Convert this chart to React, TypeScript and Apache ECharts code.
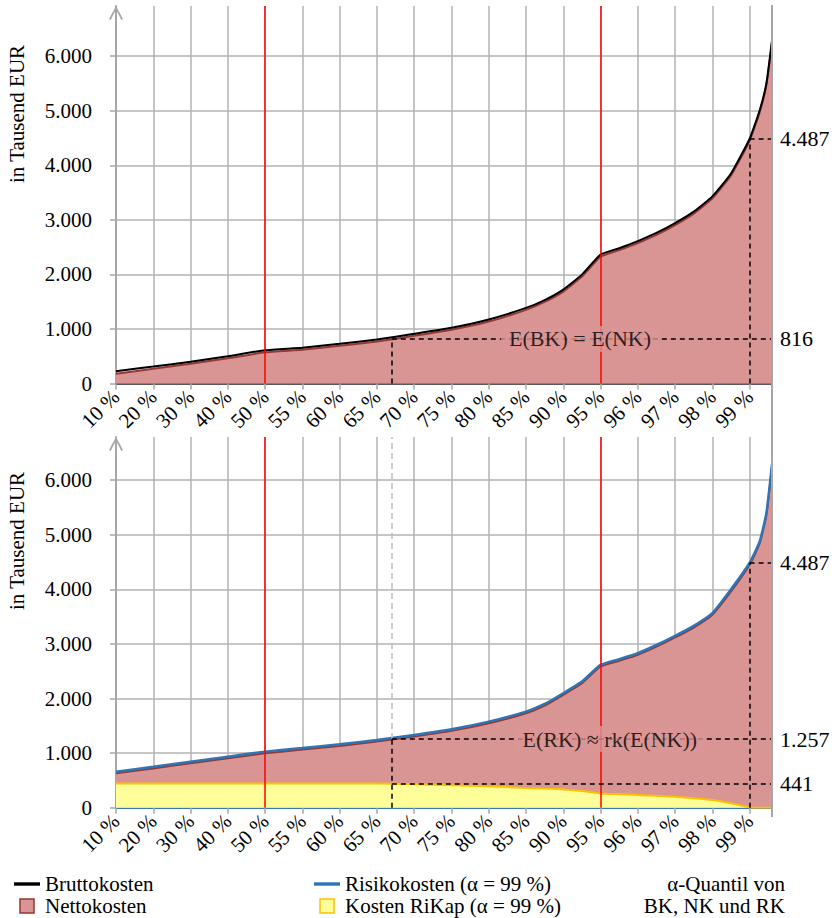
import React, { useEffect, useRef } from 'react';
import * as echarts from 'echarts';

// tick labels of the quantile axis (positions 0..17)
const tickLabels = ['10 %', '20 %', '30 %', '40 %', '50 %', '55 %', '60 %', '65 %', '70 %', '75 %', '80 %', '85 %', '90 %', '95 %', '96 %', '97 %', '98 %', '99 %'];
// x positions of the data points in tick units (0 = 10 %, 17 = 99 %)
const xPos = [0, 1, 2, 3, 4, 5, 6, 7, 8, 9, 10, 11, 11.5, 12, 12.5, 13, 13.5, 14, 14.5, 15, 15.5, 16, 16.5, 17, 17.27, 17.45, 17.6];
// top panel (in Tausend EUR)
const bruttokosten = [225, 310, 400, 500, 610, 655, 727, 806, 910, 1020, 1172, 1386, 1530, 1722, 1996, 2363, 2480, 2610, 2760, 2940, 3150, 3430, 3850, 4487, 5010, 5505, 6290];
const nettokostenTop = [180, 270, 362, 462, 572, 620, 692, 770, 875, 985, 1135, 1350, 1495, 1685, 1960, 2325, 2445, 2575, 2725, 2905, 3115, 3395, 3815, 4450, 4975, 5470, 6250];
// bottom panel
const risikokosten = [660, 750, 843, 935, 1027, 1094, 1162, 1241, 1333, 1437, 1577, 1760, 1900, 2097, 2310, 2616, 2720, 2830, 2980, 3148, 3330, 3564, 4000, 4487, 4876, 5397, 6290];
const nettokostenBottom = [630, 720, 813, 905, 997, 1064, 1132, 1211, 1303, 1407, 1547, 1730, 1870, 2067, 2280, 2586, 2690, 2800, 2950, 3118, 3300, 3534, 3960, 4450, 4840, 5360, 6250];
const kostenRiKap = [445, 445, 445, 445, 445, 445, 445, 443, 430, 412, 392, 362, 350, 335, 305, 262, 248, 233, 218, 200, 175, 140, 80, 5, 0, 0, 0];

// reference marks
const xMax = 17.6;
const redLinePos = [4, 13];
const ePos = 7.4; // where E(NK) meets the curve
const q99Pos = 17;
const eNK = 816;
const eRK = 1257;
const eRiKap = 441;
const q99 = 4487;
const topMax = 6920;
const bottomMax = 6790;

const FONT = 'Liberation Serif';
const PINK = '#D99594';
const DARKRED = '#953735';
const YELLOW = '#FFFF99';
const ORANGE = '#FFC000';
const BLUE = '#2F75B5';
const GRID = '#B3B3B3';
const AXIS = '#A6A6A6';
const ARROW = 'path://M0,13 L7,0 L14,13 L12.4,14 L7,3.6 L1.6,14 Z';
const SMOOTH = 0.15;

const zip = (ys: number[]) => xPos.map((x, i) => [x, ys[i]]);
const fmtThousand = (v: number) => String(v).replace(/\B(?=(\d{3})+(?!\d))/g, '.');

function makeXAxis(gridIndex: number, lineColor: string) {
  return {
    type: 'value',
    gridIndex,
    min: 0,
    max: xMax,
    interval: 1,
    axisLine: { show: true, onZero: false, lineStyle: { color: lineColor, width: 2 } },
    axisTick: { show: true, length: 6, lineStyle: { color: AXIS, width: 1.5 } },
    axisLabel: {
      rotate: 45,
      margin: 10,
      fontFamily: FONT,
      fontSize: 21,
      color: '#000',
      formatter: (v: number) => (Number.isInteger(v) && tickLabels[v] ? tickLabels[v] : ''),
    },
    splitLine: { show: true, lineStyle: { color: GRID, width: 1.5 } },
  };
}

function makeYAxis(gridIndex: number, max: number) {
  return {
    type: 'value',
    gridIndex,
    min: 0,
    max,
    interval: 1000,
    axisLine: {
      show: true,
      lineStyle: { color: AXIS, width: 2 },
      symbol: ['none', ARROW],
      symbolSize: [14, 14],
      symbolOffset: [0, -7],
    },
    axisTick: { show: true, length: 6, lineStyle: { color: AXIS, width: 1.5 } },
    axisLabel: {
      margin: 24,
      fontFamily: FONT,
      fontSize: 21,
      color: '#000',
      showMaxLabel: false,
      formatter: (v: number) => (v % 1000 === 0 && v <= 6000 ? fmtThousand(v) : ''),
    },
    splitLine: { show: true, showMaxLine: false, lineStyle: { color: GRID, width: 1.5 } },
  };
}

const endLabel = (text: string) => ({
  show: true,
  position: 'end',
  distance: 8,
  formatter: text,
  fontFamily: FONT,
  fontSize: 22,
  color: '#000',
});

const redLines = redLinePos.map((p) => ({
  xAxis: p,
  lineStyle: { color: '#FF0000', type: 'solid', width: 1.5 },
}));

const legendBase = {
  orient: 'vertical',
  top: 873,
  padding: 0,
  itemWidth: 26,
  itemHeight: 14,
  itemGap: 0,
  itemTextGap: 2,
  selectedMode: false,
  symbolKeepAspect: true,
  textStyle: { fontFamily: FONT, fontSize: 21, color: '#000', lineHeight: 22 },
};

const areaLine = (name: string, data: number[], grid: number, z: number, line: string, fill: string | null, width = 2) => ({
  name, type: 'line', xAxisIndex: grid, yAxisIndex: grid,
  data: zip(data), symbol: 'none', z, smooth: SMOOTH,
  lineStyle: { color: line, width }, itemStyle: { color: fill || line },
  ...(fill ? { areaStyle: { color: fill, opacity: 1 } } : {}),
});

export default function App() {
  const ref = useRef<HTMLDivElement>(null);

  useEffect(() => {
    if (!ref.current) return;
    const chart = echarts.init(ref.current, null, { renderer: 'svg' });

    const option: any = {
      animation: false,
      backgroundColor: '#fff',
      textStyle: { fontFamily: FONT },
      grid: [
        { left: 116, top: 6, width: 656, height: 377.5 },
        { left: 116, top: 437, width: 656, height: 370.7 },
      ],
      xAxis: [makeXAxis(0, '#595959'), makeXAxis(1, '#3A78B8')],
      yAxis: [makeYAxis(0, topMax), makeYAxis(1, bottomMax)],
      legend: [
        {
          ...legendBase,
          left: 14,
          data: [
            { name: 'Bruttokosten', icon: 'path://M0,0H26V3.4H0Z', itemStyle: { color: '#000', borderWidth: 0 } },
            { name: 'Nettokosten', icon: 'path://M0,0H10V10H0Z', itemStyle: { color: PINK, borderColor: DARKRED, borderWidth: 1.5 } },
          ],
        },
        {
          ...legendBase,
          left: 314,
          data: [
            { name: 'Risikokosten (α = 99 %)', icon: 'path://M0,0H26V3.4H0Z', itemStyle: { color: BLUE, borderWidth: 0 } },
            { name: 'Kosten RiKap (α = 99 %)', icon: 'path://M0,0H10V10H0Z', itemStyle: { color: YELLOW, borderColor: ORANGE, borderWidth: 1.5 } },
          ],
        },
      ],
      graphic: [
        {
          type: 'text', x: 17, y: 114, rotation: Math.PI / 2,
          style: { text: 'in Tausend EUR', fontFamily: FONT, fontSize: 21, fill: '#000', align: 'center', verticalAlign: 'middle' },
        },
        {
          type: 'text', x: 17, y: 541, rotation: Math.PI / 2,
          style: { text: 'in Tausend EUR', fontFamily: FONT, fontSize: 21, fill: '#000', align: 'center', verticalAlign: 'middle' },
        },
        {
          type: 'text', x: 785, y: 884,
          style: { text: 'α-Quantil von', fontFamily: FONT, fontSize: 21, fill: '#000', align: 'right', verticalAlign: 'middle' },
        },
        {
          type: 'text', x: 785, y: 906,
          style: { text: 'BK, NK und RK', fontFamily: FONT, fontSize: 21, fill: '#000', align: 'right', verticalAlign: 'middle' },
        },
        {
          type: 'line', z: 100,
          shape: { x1: 772, y1: 5, x2: 772, y2: 817 },
          style: { stroke: AXIS, lineWidth: 2 },
        },
      ],
      series: [
        // ---------- top panel ----------
        areaLine('Nettokosten', nettokostenTop, 0, 2, DARKRED, PINK),
        {
          ...areaLine('Bruttokosten', bruttokosten, 0, 3, '#000', null),
          markLine: {
            silent: true, symbol: ['none', 'none'], animation: false,
            label: { show: false },
            lineStyle: { color: '#000', type: [5, 4], width: 1.5 },
            data: [
              ...redLines,
              [{ coord: [ePos, 0] }, { coord: [ePos, eNK] }],
              [{ coord: [ePos, eNK], label: endLabel(fmtThousand(eNK)) }, { coord: [xMax, eNK] }],
              [{ coord: [q99Pos, 0] }, { coord: [q99Pos, q99] }],
              [{ coord: [q99Pos, q99], label: endLabel(fmtThousand(q99)) }, { coord: [xMax, q99] }],
            ],
          },
        },
        {
          type: 'scatter', xAxisIndex: 0, yAxisIndex: 0, silent: true, z: 10,
          data: [[12.45, eNK]], symbolSize: 1, itemStyle: { color: 'rgba(0,0,0,0)' },
          label: {
            show: true, position: 'inside', formatter: 'E(BK) = E(NK)',
            fontFamily: FONT, fontSize: 22, color: '#000', backgroundColor: PINK, padding: [2, 8],
          },
        },
        // ---------- bottom panel ----------
        areaLine('Nettokosten', nettokostenBottom, 1, 2, DARKRED, PINK),
        areaLine('Kosten RiKap (α = 99 %)', kostenRiKap, 1, 3, ORANGE, YELLOW),
        {
          ...areaLine('Risikokosten (α = 99 %)', risikokosten, 1, 4, BLUE, null, 2.5),
          markLine: {
            silent: true, symbol: ['none', 'none'], animation: false,
            label: { show: false },
            lineStyle: { color: '#000', type: [5, 4], width: 1.5 },
            data: [
              ...redLines,
              [{ coord: [ePos, eRK], lineStyle: { color: '#BFBFBF', type: [6, 4], width: 1.5 } }, { coord: [ePos, bottomMax] }],
              [{ coord: [ePos, 0] }, { coord: [ePos, eRK] }],
              [{ coord: [ePos, eRK], label: endLabel(fmtThousand(eRK)) }, { coord: [xMax, eRK] }],
              [{ coord: [ePos, eRiKap], label: endLabel(fmtThousand(eRiKap)) }, { coord: [xMax, eRiKap] }],
              [{ coord: [q99Pos, 0] }, { coord: [q99Pos, q99] }],
              [{ coord: [q99Pos, q99], label: endLabel(fmtThousand(q99)) }, { coord: [xMax, q99] }],
            ],
          },
        },
        {
          type: 'scatter', xAxisIndex: 1, yAxisIndex: 1, silent: true, z: 10,
          data: [[13.25, eRK]], symbolSize: 1, itemStyle: { color: 'rgba(0,0,0,0)' },
          label: {
            show: true, position: 'inside', formatter: 'E(RK) ≈ rk(E(NK))',
            fontFamily: FONT, fontSize: 22, color: '#000', backgroundColor: PINK, padding: [2, 8],
          },
        },
      ],
    };

    chart.setOption(option);
    return () => chart.dispose();
  }, []);

  return (
    <div
      ref={ref}
      style={{ position: 'absolute', left: 0, top: 0, width: 835, height: 918, background: '#fff' }}
    />
  );
}
